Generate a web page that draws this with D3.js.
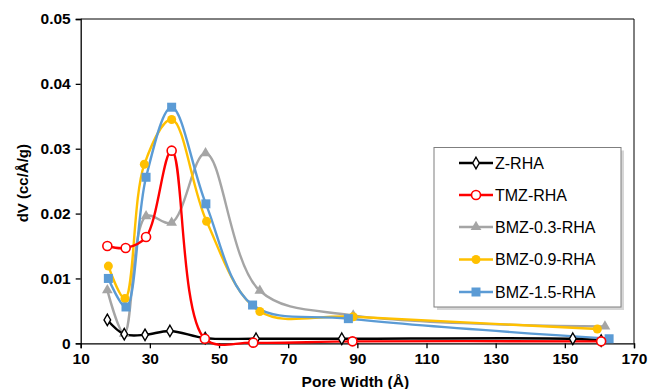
<!DOCTYPE html>
<html><head><meta charset="utf-8">
<script src="https://cdn.jsdelivr.net/npm/d3@7"></script>
<style>body{margin:0;background:#fff}svg{display:block}</style>
</head><body>
<svg id="c" width="648" height="389"></svg>
<script>
const seriesNames = ["Z-RHA","TMZ-RHA","BMZ-0.3-RHA","BMZ-0.9-RHA","BMZ-1.5-RHA"];
const zX = [17.7,22.6,28.6,35.8,46.0,60.7,85.5,152.3,160.5];
const zY = [0.0036,0.0014,0.0013,0.0019,0.0008,0.0007,0.0007,0.0007,0.0004];
const tmzX = [17.7,23.0,28.9,36.3,45.9,59.9,88.6,160.5];
const tmzY = [0.0150,0.0147,0.0164,0.0297,0.0007,0.0001,0.0003,0.0003];
const b03X = [17.7,22.6,28.9,36.3,46.1,61.8,88.8,161.6];
const b03Y = [0.0082,0.0015,0.0196,0.0186,0.0293,0.0081,0.0043,0.0026];
const b09X = [18.0,22.8,28.4,36.3,46.4,61.8,88.8,159.4];
const b09Y = [0.0119,0.0069,0.0276,0.0345,0.0188,0.0049,0.0041,0.0022];
const b15X = [18.0,23.1,28.9,36.3,46.2,59.7,87.4,162.8];
const b15Y = [0.0100,0.0056,0.0256,0.0364,0.0215,0.0059,0.0038,0.0007];
const xTicks = [10,30,50,70,90,110,130,150,170];
const yTicks = [0,0.01,0.02,0.03,0.04,0.05];

const colors = ["#000000","#FF0000","#A5A5A5","#FFC000","#5B9BD5"];
const markers = ["diamondOpen","circleOpen","triangle","circle","square"];
const allX = [zX,tmzX,b03X,b09X,b15X], allY = [zY,tmzY,b03Y,b09Y,b15Y];

const svg = d3.select("#c");
const L=80.7, R=634, T=19, B=343.3;
const x = d3.scaleLinear().domain([10,170]).range([L,R]);
const y = d3.scaleLinear().domain([0,0.05]).range([B,T]);
const font = "Liberation Sans, Arial, sans-serif";

svg.append("line").attr("x1",L).attr("x2",R).attr("y1",T).attr("y2",T).attr("stroke","#000").attr("stroke-width",1);
svg.append("line").attr("x1",R).attr("x2",R).attr("y1",T).attr("y2",B).attr("stroke","#000").attr("stroke-width",1);

const xa = svg.append("g").attr("transform",`translate(0,${B})`)
  .call(d3.axisBottom(x).tickValues(xTicks).tickSize(5).tickPadding(5).tickFormat(d3.format("d")));
const ya = svg.append("g").attr("transform",`translate(${L},0)`)
  .call(d3.axisLeft(y).tickValues(yTicks).tickSize(5).tickPadding(5).tickFormat(d=>d===0?"0":d3.format(".2f")(d)));
[xa,ya].forEach(a=>{
  a.select(".domain").attr("stroke","#000").attr("stroke-width",1.3);
  a.selectAll(".tick line").attr("stroke","#000").attr("stroke-width",1.3);
  a.selectAll("text").attr("font-family",font).attr("font-weight","bold").attr("font-size","15.5px").attr("fill","#000");
});

svg.append("text").attr("x",(L+R)/2 - 2).attr("y",387).attr("text-anchor","middle")
  .attr("font-family",font).attr("font-weight","bold").attr("font-size","15.5px").text("Pore Width (Å)");
svg.append("text").attr("transform",`translate(28,${(T+B)/2 + 2}) rotate(-90)`).attr("text-anchor","middle")
  .attr("font-family",font).attr("font-weight","bold").attr("font-size","15px").text("dV (cc/Å/g)");

const line = d3.line().x(d=>x(d[0])).y(d=>y(d[1])).curve(d3.curveCatmullRom.alpha(0.5));

function drawMarker(g, type, color, cx, cy){
  if(type==="diamondOpen"){
    g.append("path").attr("d",d3.symbol(d3.symbolDiamond,38)()).attr("transform",`translate(${cx},${cy})`)
      .attr("fill","#fff").attr("stroke",color).attr("stroke-width",1.4);
  } else if(type==="circleOpen"){
    g.append("circle").attr("cx",cx).attr("cy",cy).attr("r",4.5).attr("fill","#fff").attr("stroke",color).attr("stroke-width",1.6);
  } else if(type==="triangle"){
    g.append("path").attr("d",d3.symbol(d3.symbolTriangle,50)()).attr("transform",`translate(${cx},${cy})`).attr("fill",color);
  } else if(type==="circle"){
    g.append("circle").attr("cx",cx).attr("cy",cy).attr("r",4.5).attr("fill",color);
  } else if(type==="square"){
    g.append("rect").attr("x",cx-4.5).attr("y",cy-4.5).attr("width",9).attr("height",9).attr("fill",color);
  }
}

const plot = svg.append("g");
const order = [2,3,4,0,1];
order.forEach(i=>{
  const pts = allX[i].map((v,k)=>[v,allY[i][k]]);
  plot.append("path").attr("d",line(pts)).attr("fill","none").attr("stroke",colors[i]).attr("stroke-width",2.4);
});
order.forEach(i=>{
  const g = plot.append("g");
  allX[i].forEach((v,k)=>drawMarker(g,markers[i],colors[i],x(v),y(allY[i][k])));
});

const lg = svg.append("g");
const lx=434, ly=147.5, lw=187, lh=159.5;
lg.append("rect").attr("x",lx+3).attr("y",ly+3).attr("width",lw).attr("height",lh).attr("fill","#bbb").attr("opacity",0.6);
lg.append("rect").attr("x",lx).attr("y",ly).attr("width",lw).attr("height",lh).attr("fill","#fff").attr("stroke","#7f7f7f").attr("stroke-width",1);
const rows=[163,195,227,259.5,292];
seriesNames.forEach((n,i)=>{
  const ry=rows[i];
  lg.append("line").attr("x1",459).attr("x2",493).attr("y1",ry).attr("y2",ry).attr("stroke",colors[i]).attr("stroke-width",2.4);
  drawMarker(lg,markers[i],colors[i],476,ry);
  lg.append("text").attr("x",495).attr("y",ry+5.5).attr("font-family",font).attr("font-size","16px").attr("fill","#000").text(n);
});
</script>
</body></html>
